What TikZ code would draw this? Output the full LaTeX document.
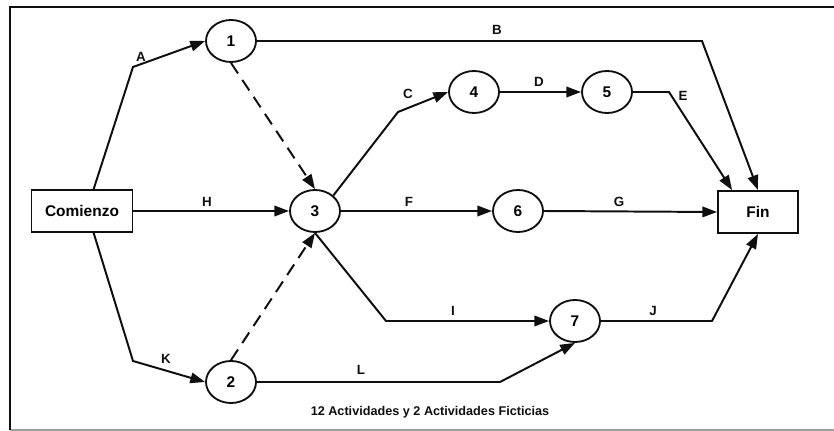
\documentclass[tikz,border=0pt]{standalone}
\usepackage{fontspec}
\setmainfont{Liberation Sans}
\usetikzlibrary{shapes.geometric, arrows.meta, positioning, calc}
\definecolor{mydark}{RGB}{15,15,15}
\definecolor{mygray}{RGB}{160,160,160}
\tikzset{
  event/.style={ellipse, draw=mydark, minimum width=1.25cm, minimum height=1.05cm,
    inner sep=0pt, font=\bfseries\fontsize{11}{13}\selectfont, line width=1.3pt},
  endbox/.style={rectangle, draw=mydark, minimum height=1.05cm,
    inner sep=0pt, font=\bfseries\fontsize{11}{13}\selectfont, line width=1.3pt},
  arrow/.style={-{Triangle[length=10.5pt,width=7.5pt]}, line width=1.4pt, color=mydark},
  dummy/.style={arrow, dash pattern=on 9pt off 5.5pt},
  lbl/.style={font=\bfseries\fontsize{9.5}{12}\selectfont, color=mydark}
}

\begin{document}
\begin{tikzpicture}[x=0.025cm, y=-0.025cm]
  \useasboundingbox (0,0) rectangle (834,431);
  % frame
  \draw[mygray, line width=0.8pt] (10,430) -- (834,430);
  \draw[mydark, line width=1.4pt] (834,7) -- (10,7) -- (10,430);

  % events
  \node[endbox, minimum width=2.525cm] (com) at (82,211) {Comienzo};
  \node[event] (n1) at (231,41) {1};
  \node[event] (n2) at (231,382) {2};
  \node[event] (n3) at (315,211) {3};
  \node[event] (n4) at (474,92) {4};
  \node[event] (n5) at (607,92) {5};
  \node[event] (n6) at (518,211) {6};
  \node[event] (n7) at (575,321) {7};
  \node[endbox, minimum width=2cm] (fin) at (758,212) {Fin};

  % bends
  \coordinate (bA) at (133,67);
  \coordinate (bK) at (133,361);
  \coordinate (bB) at (702,41);
  \coordinate (bC) at (398,112);
  \coordinate (bE) at (669,92);
  \coordinate (bI) at (386,321);
  \coordinate (bL) at (500,382);
  \coordinate (bJ) at (712,321);

  % activities
  \draw[arrow] (com.62) -- (bA) -- (n1.west);
  \draw[arrow] (com.-62) -- (bK) -- (n2.west);
  \draw[arrow] (com.east) -- (n3.west);
  \draw[arrow] (n1.east) -- (bB) -- (fin.north);
  \draw[arrow] (n3.north east) -- (bC) -- (n4.west);
  \draw[arrow] (n4.east) -- (n5.west);
  \draw[arrow] (n5.east) -- (bE) -- ($(fin.north west)+(15,0)$);
  \draw[arrow] (n3.east) -- (n6.west);
  \draw[arrow] (n6.east) -- (fin.west);
  \draw[arrow] (n3.south) -- (bI) -- (n7.west);
  \draw[arrow] (n2.east) -- (bL) -- (n7.south);
  \draw[arrow] (n7.east) -- (bJ) -- (fin.south);
  % dummies
  \draw[dummy] (n1.south) -- (n3.north);
  \draw[dummy] (n2.north) -- (n3.south);

  % labels
  \node[lbl] (lA) at (141,57) {A};
  \node[lbl] (lB) at (497,30) {B};
  \node[lbl] (lC) at (408,94) {C};
  \node[lbl] (lD) at (539,82) {D};
  \node[lbl] (lE) at (683,96) {E};
  \node[lbl] (lF) at (409,202) {F};
  \node[lbl] (lG) at (619,202) {G};
  \node[lbl] (lH) at (207,202) {H};
  \node[lbl] (lI) at (453,311) {I};
  \node[lbl] (lJ) at (653,311) {J};
  \node[lbl] (lK) at (166,359) {K};
  \node[lbl] (lL) at (361,370) {L};
  \node[lbl, font=\bfseries\fontsize{9}{11}\selectfont] (cap) at (430,412)
    {12 Actividades y 2 Actividades Ficticias};
\end{tikzpicture}
\end{document}
